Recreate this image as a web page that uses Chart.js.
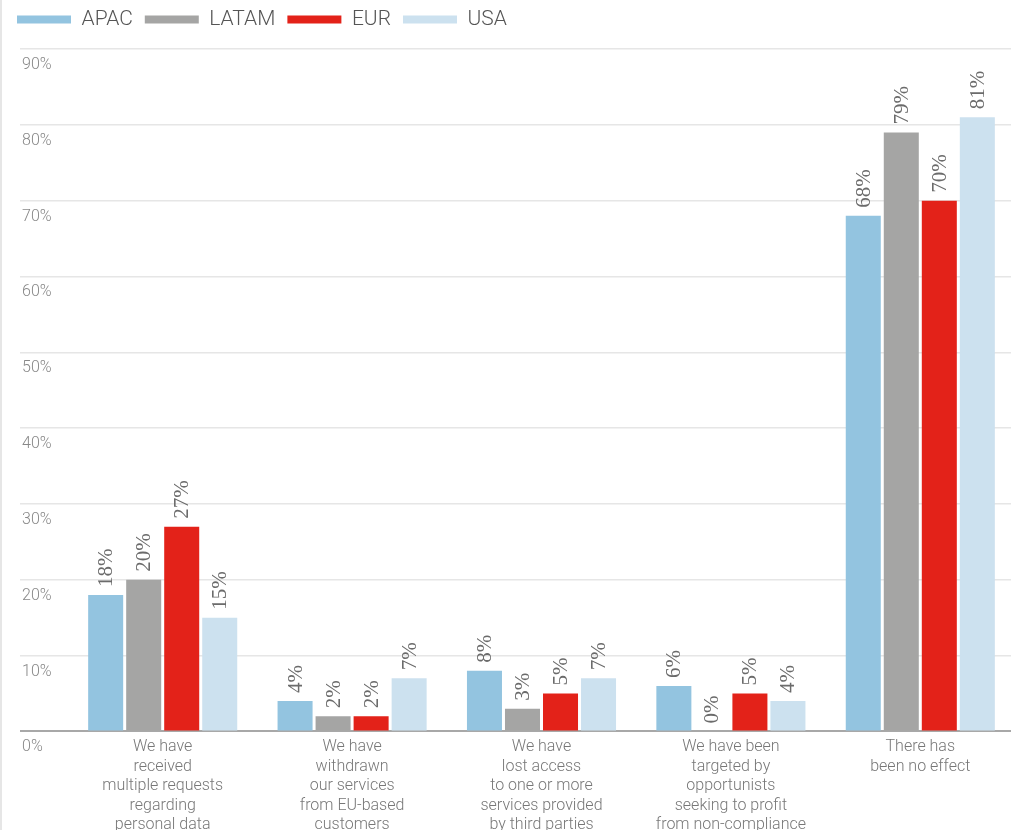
<!DOCTYPE html>
<html>
<head>
<meta charset="utf-8">
<script src="https://cdn.jsdelivr.net/npm/chart.js@4.4.1/dist/chart.umd.min.js"></script>
<style>
  html, body { margin: 0; padding: 0; background: #fff; overflow: hidden; }
  #wrap {
    position: absolute; left: 0; top: -3px;
    width: 1013px; height: 844px;
    border-left: 2px solid #e6e6e6;
  }
</style>
</head>
<body>
<div id="wrap"><canvas id="chart"></canvas></div>
<script>
const categories = [
  ["We have", "received", "multiple requests", "regarding", "personal data"],
  ["We have", "withdrawn", "our services", "from EU-based", "customers"],
  ["We have", "lost access", "to one or more", "services provided", "by third parties"],
  ["We have been", "targeted by", "opportunists", "seeking to profit", "from non-compliance"],
  ["There has", "been no effect"]
];
const apac = [18, 4, 8, 6, 68];
const latam = [20, 2, 3, 0, 79];
const eur = [27, 2, 5, 5, 70];
const usa = [15, 7, 7, 4, 81];

const sans = "Roboto, 'Liberation Sans', sans-serif";

// extra room between the legend and the plot
const legendGap = {
  id: "legendGap",
  beforeInit(chart) {
    const fit = chart.legend.fit;
    chart.legend.fit = function () {
      fit.call(this);
      this.height += 9;
    };
  }
};

// value printed vertically above each bar
const barValueLabels = {
  id: "barValueLabels",
  afterDatasetsDraw(chart) {
    const ctx = chart.ctx;
    ctx.save();
    ctx.font = "21px 'Liberation Serif', serif";
    ctx.fillStyle = "#6b6b6b";
    ctx.textAlign = "left";
    ctx.textBaseline = "middle";
    chart.data.datasets.forEach((ds, i) => {
      chart.getDatasetMeta(i).data.forEach((bar, j) => {
        ctx.save();
        ctx.translate(bar.x + 1, bar.y - 8);
        ctx.rotate(-Math.PI / 2);
        ctx.fillText(ds.data[j] + "%", 0, 0);
        ctx.restore();
      });
    });
    ctx.restore();
  }
};

new Chart(document.getElementById("chart"), {
  type: "bar",
  data: {
    labels: categories,
    datasets: [
      { label: "APAC", data: apac, backgroundColor: "#93c4e0" },
      { label: "LATAM", data: latam, backgroundColor: "#a5a5a4" },
      { label: "EUR", data: eur, backgroundColor: "#e32219" },
      { label: "USA", data: usa, backgroundColor: "#cce1ef" }
    ]
  },
  options: {
    responsive: true,
    maintainAspectRatio: false,
    animation: false,
    categoryPercentage: 0.803,
    barPercentage: 0.921,
    layout: { padding: { left: 3, right: 0, top: 0, bottom: 0 } },
    plugins: {
      tooltip: { enabled: false },
      legend: {
        align: "start",
        labels: {
          boxWidth: 54,
          boxHeight: 8,
          padding: 12,
          color: "#555",
          font: { family: sans, size: 21, weight: 300 }
        }
      }
    },
    scales: {
      x: {
        grid: { display: false, drawTicks: false },
        border: { display: false },
        ticks: {
          autoSkip: false,
          maxRotation: 0,
          padding: 6,
          color: "#777",
          font: { family: sans, size: 16, weight: 300, lineHeight: 1.22 }
        }
      },
      y: {
        min: 0,
        max: 90,
        afterFit(scale) { scale.width = 63; },
        border: { display: false },
        grid: {
          tickLength: 48,
          color: (c) => (c.tick && c.tick.value === 0 ? "#a8a8a8" : "#e6e6e6"),
          lineWidth: (c) => (c.tick && c.tick.value === 0 ? 2 : 1.5)
        },
        ticks: {
          stepSize: 10,
          mirror: true,
          padding: -46,
          labelOffset: 16,
          color: "#888",
          font: { family: sans, size: 16, weight: 300 },
          callback: (v) => v + "%"
        }
      }
    }
  },
  plugins: [legendGap, barValueLabels]
});
</script>
</body>
</html>
